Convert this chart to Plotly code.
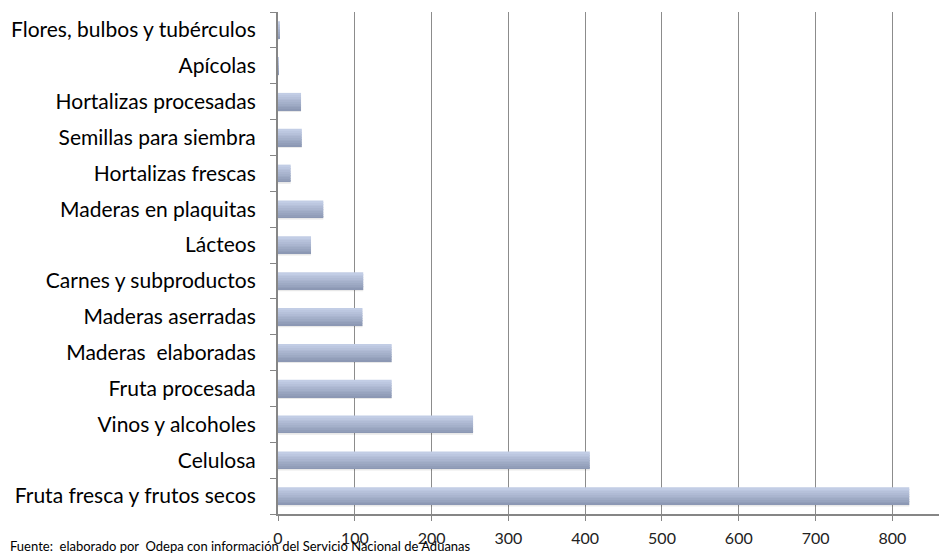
import plotly.graph_objects as go

# bottom-to-top order
categories = [
    "Fruta fresca y frutos secos",
    "Celulosa",
    "Vinos y alcoholes",
    "Fruta procesada",
    "Maderas\u00a0 elaboradas",
    "Maderas aserradas",
    "Carnes y subproductos",
    "Lácteos",
    "Maderas en plaquitas",
    "Hortalizas frescas",
    "Semillas para siembra",
    "Hortalizas procesadas",
    "Apícolas",
    "Flores, bulbos y tubérculos",
]
values = [822, 406, 254, 148, 148, 110, 111, 43, 59, 16.5, 31, 30, 1, 1.5]
x_ticks = [0, 100, 200, 300, 400, 500, 600, 700, 800]

W, H = 939, 546
L, R, T, B = 270, 7, 4, 40
PW, PH = W - L - R, H - T - B

fig = go.Figure()

# soft shadow below bars
fig.add_trace(go.Bar(
    y=categories, x=values, orientation="h",
    width=0.06, offset=-0.29,
    marker=dict(color="rgba(0,0,0,0.09)", line=dict(width=0)),
    hoverinfo="skip", showlegend=False,
))

# vertical gradient built from stacked bands
n_bands = 10
bottom = (0x8C, 0x98, 0xB4)
top = (0xC2, 0xCD, 0xE5)
band_w = 0.48 / n_bands
for i in range(n_bands):
    t = i / (n_bands - 1)
    c = tuple(round(bottom[k] + (top[k] - bottom[k]) * t) for k in range(3))
    fig.add_trace(go.Bar(
        y=categories, x=values, orientation="h",
        width=band_w + 0.004, offset=-0.24 + i * band_w,
        marker=dict(color="rgb(%d,%d,%d)" % c, line=dict(width=0)),
        hoverinfo="skip", showlegend=False,
    ))

fig.update_layout(
    width=W, height=H,
    margin=dict(l=L, r=R, t=T, b=B, autoexpand=False),
    plot_bgcolor="white", paper_bgcolor="white",
    barmode="overlay",
    font=dict(family="Lato", color="#000000"),
    showlegend=False,
    xaxis=dict(
        range=[0, 862],
        tickvals=x_ticks,
        showgrid=True, gridcolor="#8c8c8c", gridwidth=1,
        showline=True, linecolor="#868686", linewidth=2,
        ticks="outside", ticklen=5, tickcolor="#868686",
        ticklabelstandoff=4,
        tickfont=dict(size=16, color="#222222"),
        zeroline=False,
        automargin=False,
        fixedrange=True,
    ),
    yaxis=dict(
        type="category",
        showgrid=False,
        showline=True, linecolor="#868686", linewidth=2,
        ticks="outside", ticklen=6, tickcolor="#868686",
        tickson="boundaries",
        ticklabelstandoff=16,
        tickfont=dict(size=21, color="#000000"),
        automargin=False,
        fixedrange=True,
    ),
    annotations=[dict(
        text="Fuente:\u00a0 elaborado por\u00a0 Odepa con información del Servicio Nacional de Aduanas",
        xref="paper", yref="paper",
        x=-L / PW, y=-32 / PH, xanchor="left", yanchor="middle",
        showarrow=False, font=dict(size=13, color="#000000"),
    )],
)

fig.write_html("out.html")
